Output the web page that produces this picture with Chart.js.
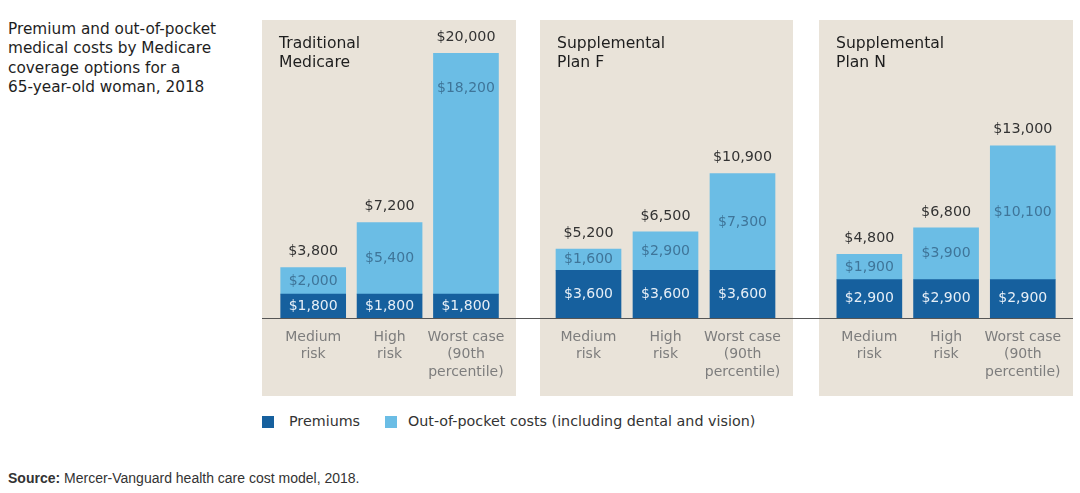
<!DOCTYPE html>
<html>
<head>
<meta charset="utf-8">
<script src="https://cdn.jsdelivr.net/npm/chart.js@4.4.0/dist/chart.umd.min.js"></script>
<style>
    body { margin: 0; width: 1080px; height: 493px; background: #fff; position: relative; overflow: hidden;
           font-family: "DejaVu Sans", sans-serif; }
    .title { position: absolute; left: 8px; top: 20px; font-size: 15.3px; line-height: 19.3px; color: #1e1e1e; }
    .panel { position: absolute; top: 20px; height: 376px; background: #e9e3d9; }
    .panel-title { position: absolute; left: 17px; top: 14px; font-size: 15.6px; line-height: 19px; color: #1e1e1e; z-index: 2; }
    .panel canvas { position: absolute; left: 0; top: 0; }
    .baseline { position: absolute; left: 262px; width: 811px; top: 318px; height: 1px; background: #555; z-index: 3; }
    .legend { position: absolute; top: 413px; font-size: 14.3px; color: #333; }
    .legend span.box { display: inline-block; width: 12px; height: 12px; position: absolute; top: 3px; }
    .source { position: absolute; left: 8px; top: 470px; font-family: "Liberation Sans Narrow", "Liberation Sans", sans-serif;
              font-size: 14px; color: #333; }
</style>
</head>
<body>
<div class="title">Premium and out-of-pocket<br>medical costs by Medicare<br>coverage options for a<br>65-year-old woman, 2018</div>

<div class="panel" id="panel0" style="left:262px; width:254px;"><div class="panel-title"></div><canvas id="chart0"></canvas></div>
<div class="panel" id="panel1" style="left:540px; width:253px;"><div class="panel-title"></div><canvas id="chart1"></canvas></div>
<div class="panel" id="panel2" style="left:819px; width:254px;"><div class="panel-title"></div><canvas id="chart2"></canvas></div>
<div class="baseline"></div>

<div class="legend" style="left:262px;"><span class="box" style="left:0; background:#16609e;"></span><span style="position:absolute; left:27px; white-space:nowrap;">Premiums</span></div>
<div class="legend" style="left:385px;"><span class="box" style="left:0; background:#6bbde5;"></span><span style="position:absolute; left:23px; white-space:nowrap;">Out-of-pocket costs (including dental and vision)</span></div>

<div class="source"><b>Source:</b> Mercer-Vanguard health care cost model, 2018.</div>

<script>
// Chart data
const categories = [['Medium', 'risk'], ['High', 'risk'], ['Worst case', '(90th', 'percentile)']];
const panelTitles = [['Traditional', 'Medicare'], ['Supplemental', 'Plan F'], ['Supplemental', 'Plan N']];
const premiums = [[1800, 1800, 1800], [3600, 3600, 3600], [2900, 2900, 2900]];
const outOfPocket = [[2000, 5400, 18200], [1600, 2900, 7300], [1900, 3900, 10100]];
const totals = [[3800, 7200, 20000], [5200, 6500, 10900], [4800, 6800, 13000]];

const DARK = '#16609e';
const LIGHT = '#6bbde5';
const FONT = '"DejaVu Sans", sans-serif';
const padLeft = [13, 10, 12];

function money(v) {
    return '$' + v.toLocaleString('en-US');
}

// Draw value labels inside segments and totals above bars
const valueLabels = {
    id: 'valueLabels',
    afterDatasetsDraw(chart, args, opts) {
        const ctx = chart.ctx;
        ctx.save();
        ctx.textAlign = 'center';
        ctx.textBaseline = 'middle';
        ctx.font = '14px ' + FONT;
        chart.data.datasets.forEach((ds, di) => {
            const meta = chart.getDatasetMeta(di);
            meta.data.forEach((bar, i) => {
                const p = bar.getProps(['x', 'y', 'base'], true);
                const h = p.base - p.y;
                // tall segments get their label near the top
                const y = h > 150 ? p.y + 35 : (p.y + p.base) / 2;
                ctx.fillStyle = di === 0 ? '#e6eef6' : '#3f7599';
                ctx.fillText(money(ds.data[i]), p.x, y);
            });
        });
        const top = chart.getDatasetMeta(chart.data.datasets.length - 1);
        ctx.fillStyle = '#333';
        ctx.font = '14.3px ' + FONT;
        top.data.forEach((bar, i) => {
            const p = bar.getProps(['x', 'y'], true);
            ctx.fillText(money(opts.totals[i]), p.x, p.y - 16);
        });
        ctx.restore();
    }
};

function createPanel(idx) {
    const panel = document.getElementById('panel' + idx);
    panel.querySelector('.panel-title').innerHTML = panelTitles[idx].join('<br>');
    const canvas = document.getElementById('chart' + idx);
    canvas.width = panel.offsetWidth;
    canvas.height = panel.offsetHeight;

    new Chart(canvas.getContext('2d'), {
        type: 'bar',
        data: {
            labels: categories,
            datasets: [
                { label: 'Premiums', data: premiums[idx], backgroundColor: DARK, barThickness: 65 },
                { label: 'Out-of-pocket costs (including dental and vision)', data: outOfPocket[idx], backgroundColor: LIGHT, barThickness: 65 }
            ]
        },
        options: {
            responsive: false,
            animation: false,
            layout: { padding: { top: 33, left: padLeft[idx], right: 23 - padLeft[idx] + (panel.offsetWidth - 254), bottom: 0 } },
            plugins: {
                legend: { display: false },
                tooltip: { enabled: false },
                valueLabels: { totals: totals[idx] }
            },
            scales: {
                x: {
                    stacked: true,
                    grid: { display: false, drawTicks: false },
                    border: { display: false },
                    ticks: { color: '#7d7d7d', padding: 10, maxRotation: 0, minRotation: 0, autoSkip: false,
                             font: { size: 14, family: FONT, lineHeight: 1.27 } },
                    afterFit: scale => { scale.height = 78; }
                },
                y: {
                    stacked: true,
                    display: false,
                    min: 0,
                    max: 20000
                }
            }
        },
        plugins: [valueLabels]
    });
}

[0, 1, 2].forEach(createPanel);
</script>
</body>
</html>
